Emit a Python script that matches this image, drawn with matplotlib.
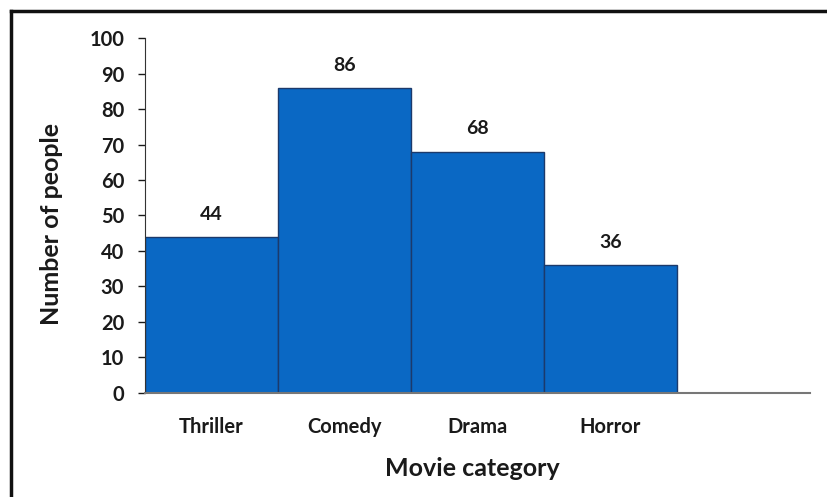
import matplotlib
matplotlib.use('Agg')
import matplotlib.pyplot as plt
from matplotlib.lines import Line2D

categories = ['Thriller', 'Comedy', 'Drama', 'Horror']
people = [44, 86, 68, 36]
y_ticks = [0, 10, 20, 30, 40, 50, 60, 70, 80, 90, 100]

plt.rcParams['font.family'] = ['Lato', 'DejaVu Sans']
plt.rcParams['font.weight'] = 'bold'

fig = plt.figure(figsize=(8.27, 4.97), dpi=100)
ax = fig.add_axes([0.1753, 0.2093, 0.8041, 0.7142])

x = list(range(len(categories)))
bars = ax.bar(x, people, width=1.0, align='edge', color='#0A68C4',
              edgecolor='#1C3A6B', linewidth=1.0)
for xi, v in zip(x, people):
    ax.text(xi + 0.5, v + 4, str(v), ha='center', va='bottom',
            fontsize=14, fontweight='bold', color='#1a1a1a')

ax.set_xlim(0, 5)
ax.set_ylim(0, 100)
ax.set_yticks(y_ticks)
ax.set_xticks([xi + 0.5 for xi in x])
ax.set_xticklabels(categories)
ax.tick_params(axis='y', length=5, width=1, pad=10, labelsize=14.5, colors='#1a1a1a')
ax.tick_params(axis='x', length=0, pad=17, labelsize=14.5, colors='#1a1a1a')
for lab in ax.get_xticklabels() + ax.get_yticklabels():
    lab.set_fontweight('bold')

ax.spines['top'].set_visible(False)
ax.spines['right'].set_visible(False)
ax.spines['left'].set_color('#333333')
ax.spines['bottom'].set_color('#777777')
ax.spines['bottom'].set_linewidth(1.5)

ax.set_ylabel('Number of people', fontsize=18, fontweight='bold', color='#1a1a1a')
ax.set_xlabel('Movie category', fontsize=18, fontweight='bold', color='#1a1a1a')
ax.yaxis.set_label_coords(-0.123, 0.477)
ax.xaxis.set_label_coords(0.492, -0.18)

# outer frame (cut off at right and bottom)
fig.add_artist(Line2D([0.0127, 1.0], [0.977, 0.977], color='#111111', linewidth=2.5,
                      transform=fig.transFigure))
fig.add_artist(Line2D([0.0127, 0.0127], [0.0, 0.977], color='#111111', linewidth=2.5,
                      transform=fig.transFigure))

fig.savefig('out.png', dpi=100)
